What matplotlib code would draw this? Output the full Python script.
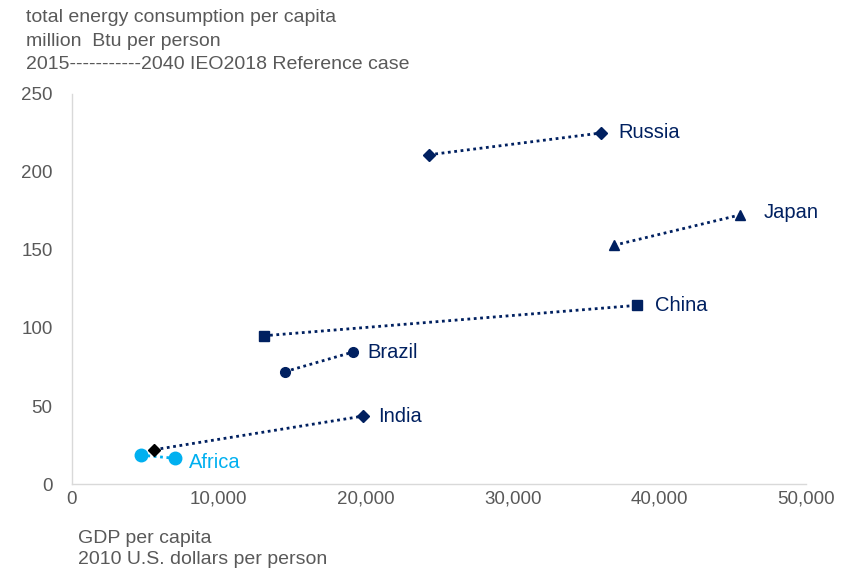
import matplotlib
matplotlib.use("Agg")
import matplotlib.pyplot as plt
from matplotlib.ticker import FuncFormatter

plt.rcParams['font.family'] = ['Liberation Sans', 'DejaVu Sans']

# 2015 -> 2040 per region
regions = ["Russia", "Japan", "China", "Brazil", "India", "Africa"]
gdp_2015 = [24300, 36900, 13050, 14500, 5600, 4700]
gdp_2040 = [36050, 45500, 38450, 19100, 19800, 7000]
energy_2015 = [211, 153, 95, 72, 22, 18.5]
energy_2040 = [225, 172.5, 114.5, 84.5, 43.5, 16.5]
markers = ["D", "^", "s", "o", "D", "o"]
label_dx = [12, 17, 13, 11, 11, 10]
label_dy = [0, 2, 0, 0, 0, -3]

navy = "#002060"
cyan = "#00B0F0"
gray = "#595959"

fig = plt.figure(figsize=(8.63, 5.72), dpi=100)
ax = fig.add_axes([0.0834, 0.1538, 0.851, 0.682])

for i, name in enumerate(regions):
    col = cyan if name == "Africa" else navy
    m = markers[i]
    ms = 9 if name == "Africa" else (6 if m == "D" else 7)
    ax.plot([gdp_2015[i], gdp_2040[i]], [energy_2015[i], energy_2040[i]],
            linestyle=(0, (1, 1.3)), color=col, linewidth=2, zorder=2)
    c0 = "black" if name == "India" else col
    ax.plot(gdp_2015[i], energy_2015[i], marker=m, color=c0, markersize=ms,
            linestyle="none", zorder=3)
    ax.plot(gdp_2040[i], energy_2040[i], marker=m, color=col, markersize=ms,
            linestyle="none", zorder=3)
    ax.annotate(name, (gdp_2040[i], energy_2040[i]),
                xytext=(label_dx[i], label_dy[i]),
                textcoords="offset points", va="center", ha="left",
                color=col, fontsize=14.5)

ax.set_xlim(0, 50000)
ax.set_ylim(0, 250)
ax.set_xticks(range(0, 50001, 10000))
ax.set_yticks(range(0, 251, 50))
ax.xaxis.set_major_formatter(FuncFormatter(lambda v, p: f"{int(v):,}"))
ax.tick_params(length=0, labelsize=13.5, labelcolor=gray)
ax.tick_params(axis="x", pad=5)
ax.tick_params(axis="y", pad=14)
for s in ["top", "right"]:
    ax.spines[s].set_visible(False)
for s in ["left", "bottom"]:
    ax.spines[s].set_color("#D9D9D9")
    ax.spines[s].set_linewidth(1)

fig.text(26 / 863, 1 - 9 / 572,
         "total energy consumption per capita\nmillion  Btu per person\n2015-----------2040 IEO2018 Reference case",
         ha="left", va="top", fontsize=14, color=gray, linespacing=1.5)
fig.text(78 / 863, 1 - 530 / 572, "GDP per capita\n2010 U.S. dollars per person",
         ha="left", va="top", fontsize=14, color=gray, linespacing=1.3)

fig.savefig("out.png", dpi=100)
